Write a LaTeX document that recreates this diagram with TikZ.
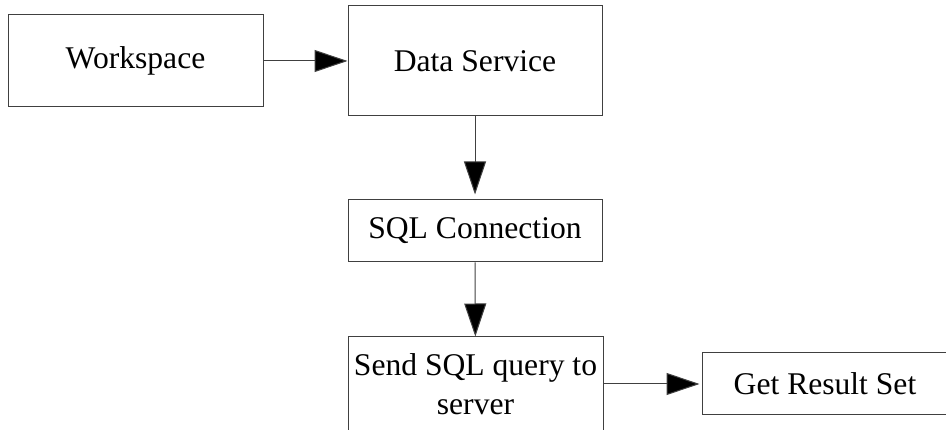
\documentclass[tikz,border=0pt]{standalone}
\usepackage{fontspec}
\setmainfont{Liberation Serif}
\usetikzlibrary{arrows.meta}

\begin{document}
\begin{tikzpicture}[x=1pt,y=-1pt,
  box/.style={draw=black!75,line width=1pt,rectangle,inner sep=0pt,align=center,
    font=\fontsize{31.6}{39}\selectfont},
  flow/.style={draw=black!75,line width=1pt,
    -{Triangle[length=33pt,width=22pt,fill=black]}}]
\useasboundingbox (0,0) rectangle (946,430);
\node[box,minimum width=255pt,minimum height=92pt] (ws) at (135.5,61) {Workspace};
\node[box,minimum width=254pt,minimum height=110pt] (ds) at (475,61) {Data Service};
\node[box,minimum width=254pt,minimum height=62pt] (sql) at (475,231) {SQL Connection};
\node[box,minimum width=255pt,minimum height=94pt] (send) at (475.5,384) {Send SQL query to\\server};
\node[box,minimum width=246pt,minimum height=62pt] (res) at (825,384) {Get Result Set};
\draw[flow] (ws) -- (ds);
\draw[flow,shorten >=5pt] (ds) -- (sql);
\draw[flow] (sql) -- (send);
\draw[flow,shorten >=2pt] (send) -- (res);
\end{tikzpicture}
\end{document}
